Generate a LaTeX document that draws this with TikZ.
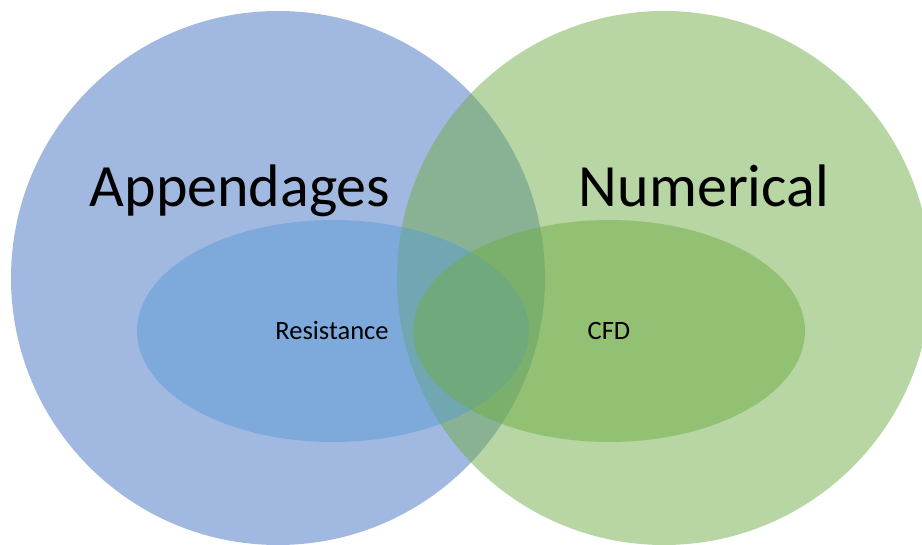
\documentclass[tikz,border=0pt]{standalone}
\usepackage{fontspec}
\setmainfont{Carlito}
\definecolor{vennBlue}{HTML}{4472C4}
\definecolor{vennGreen}{HTML}{70AD47}
\definecolor{vennSky}{HTML}{5B9BD5}
\tikzset{
  venn set/.style={draw=none, fill opacity=0.5},
  venn title/.style={font=\fontsize{60}{66}\selectfont, anchor=base, text=black},
  venn label/.style={font=\fontsize{26.5}{31}\selectfont, anchor=base, text=black}
}

\begin{document}
\begin{tikzpicture}[x=1pt,y=-1pt]
  \useasboundingbox (0,0) rectangle (922,545);
  \clip (0,0) rectangle (922,545);
  \coordinate (appC) at (278,278);
  \coordinate (numC) at (664,278);
  \coordinate (resC) at (333,331);
  \coordinate (cfdC) at (609,331);
  % outer sets first, the inner ovals on top
  \fill[venn set, vennBlue] (appC) circle (267);
  \fill[venn set, vennGreen] (numC) circle (267);
  \fill[venn set, vennSky] (resC) ellipse [x radius=196, y radius=111];
  \fill[venn set, vennGreen] (cfdC) ellipse [x radius=196, y radius=111];
  \node[venn title] (appendages) at (240,207) {Appendages};
  \node[venn title] (numerical) at (704,207) {Numerical};
  \node[venn label] (resistance) at (332,340) {Resistance};
  \node[venn label] (cfd) at (609,340) {CFD};
\end{tikzpicture}
\end{document}
